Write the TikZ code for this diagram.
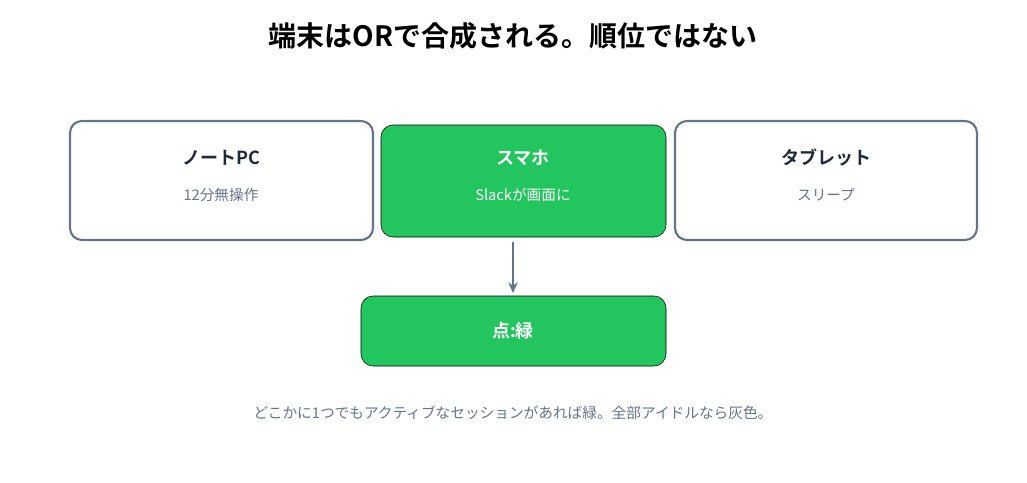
\documentclass[tikz,border=0pt]{standalone}
\usepackage{fontspec}
\setmainfont{Noto Sans CJK JP}
\newfontfamily\boldjp{Noto Sans CJK JP Bold}
\usetikzlibrary{arrows.meta}
\definecolor{grn}{HTML}{22C55E}
\definecolor{slate}{HTML}{64748B}
\definecolor{dark}{HTML}{1E293B}
\tikzset{
 outbox/.style={draw=slate,line width=1.6pt,fill=white,rounded corners=9pt},
 grnbox/.style={fill=grn,rounded corners=9pt},
 ttl/.style={font=\boldjp\fontsize{13.5}{16}\selectfont,text=dark},
 sub/.style={font=\fontsize{11}{13}\selectfont,text=slate},
}
\begin{document}
\begin{tikzpicture}[x=0.75pt,y=-0.75pt]
\useasboundingbox (0,0) rectangle (1027,482);
\node (title) at (513,36) {\boldjp\fontsize{21}{25}\selectfont 端末はORで合成される。順位ではない};
\draw[outbox] (70,121) rectangle (373,240);
\node[ttl] (a1) at (221,158) {ノートPC};
\node[sub] (a2) at (221,195) {12分無操作};
\draw[grnbox] (381,125) rectangle (666,237);
\node[ttl,text=white] (b1) at (523,158) {スマホ};
\node[sub,text=white] (b2) at (523,195) {Slackが画面に};
\draw[outbox] (675,121) rectangle (977,240);
\node[ttl] (c1) at (826,158) {タブレット};
\node[sub] (c2) at (826,195) {スリープ};
\draw[grnbox] (361,296) rectangle (666,366);
\node[ttl,text=white] (d) at (513,331) {点:緑};
\coordinate (s) at (513,242);
\coordinate (e) at (513,293);
\draw[slate,line width=2pt,-{Stealth[length=8pt,width=7pt]}] (s) -- (e);
\node[sub] (cap) at (513,413) {どこかに1つでもアクティブなセッションがあれば緑。全部アイドルなら灰色。};
\end{tikzpicture}
\end{document}
